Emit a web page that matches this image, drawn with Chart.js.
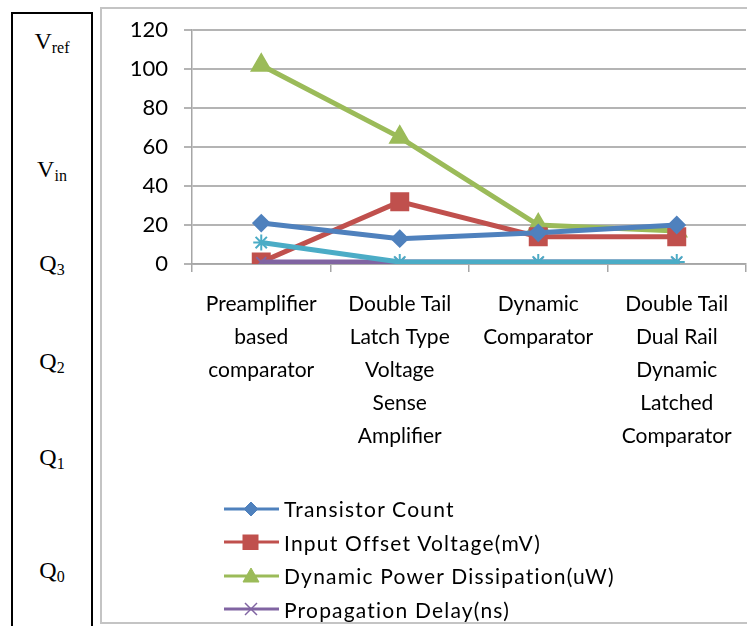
<!DOCTYPE html>
<html>
<head>
<meta charset="utf-8">
<script src="https://cdn.jsdelivr.net/npm/chart.js@4"></script>
<style>
  html, body { margin: 0; padding: 0; background: #fff; width: 747px; height: 626px; overflow: hidden; position: relative; }
  #sidebox { position: absolute; left: 11px; top: 12px; width: 78px; height: 640px; border: 2px solid #000; font-family: "Liberation Serif", "Times New Roman", serif; font-size: 24px; color: #000; }
  #sidebox div { position: absolute; left: 0; width: 78px; text-align: center; }
  #sidebox sub { font-size: 16px; vertical-align: -4px; }
  #chartbox { position: absolute; left: 100px; top: 7px; width: 660px; height: 613px; border: 2px solid #c4c4c4; }
  #wrap { position: absolute; left: 100px; top: 1px; width: 660px; height: 621px; }
  #legend { position: absolute; left: 224px; top: 492px; font-family: Lato, "Open Sans", sans-serif; font-size: 21px; letter-spacing: 1.2px; color: #000; }
  #legend .row { height: 33.5px; display: flex; align-items: center; }
  #legend svg { margin-right: 5px; }
</style>
</head>
<body>
<div id="sidebox">
  <div style="top:14px">V<sub>ref</sub></div>
  <div style="top:142px">V<sub>in</sub></div>
  <div style="top:236px">Q<sub>3</sub></div>
  <div style="top:334px">Q<sub>2</sub></div>
  <div style="top:430px">Q<sub>1</sub></div>
  <div style="top:543px">Q<sub>0</sub></div>
</div>
<div id="chartbox"></div>
<div id="wrap"><canvas id="lines"></canvas></div>
<div id="legend"></div>
<script>
// categories and values
const categories = [
  ['Preamplifier', 'based', 'comparator'],
  ['Double Tail', 'Latch Type', 'Voltage', 'Sense', 'Amplifier'],
  ['Dynamic', 'Comparator'],
  ['Double Tail', 'Dual Rail', 'Dynamic', 'Latched', 'Comparator']
];
const transistorCount = [21, 13, 16, 20];
const inputOffset = [1, 32, 14, 14];
const powerDissipation = [102, 65, 20, 17];
const propagationDelay = [1, 1, 1, 1];
const fifthSeries = [11, 1, 1, 1];
const yTicks = [0, 20, 40, 60, 80, 100, 120];

const seriesNames = ['Transistor Count', 'Input Offset Voltage(mV)', 'Dynamic Power Dissipation(uW)', 'Propagation Delay(ns)'];
const colors = ['#4f81bd', '#c0504d', '#9bbb59', '#8064a2', '#4bacc6'];

function ds(label, data, color, style, r) {
  return {
    label, data,
    borderColor: color, backgroundColor: color,
    borderWidth: 5, pointStyle: style, pointRadius: r, pointHoverRadius: r,
    pointBorderColor: color, pointBackgroundColor: color, pointBorderWidth: 2
  };
}

const data = {
  labels: categories,
  datasets: [
    ds('Series 5', fifthSeries, colors[4], 'star', 8),
    ds(seriesNames[3], propagationDelay, colors[3], 'crossRot', 7),
    ds(seriesNames[0], transistorCount, colors[0], 'rectRot', 8),
    ds(seriesNames[1], inputOffset, colors[1], 'rect', 12),
    ds(seriesNames[2], powerDissipation, colors[2], 'triangle', 11)
  ]
};
data.datasets.forEach((d, i) => d.order = i);

const config = {
  type: 'line',
  data,
  options: {
    responsive: false,
    animation: false,
    layout: { padding: { top: 14, right: 3, bottom: 0, left: 0 } },
    plugins: { legend: { display: false }, tooltip: { enabled: false } },
    scales: {
      x: {
        offset: true,
        grid: { display: true, drawOnChartArea: false, drawTicks: true, tickLength: 8, color: '#a6a6a6', lineWidth: 1.5, offset: true },
        border: { display: true, color: '#a6a6a6', width: 1.5 },
        ticks: { autoSkip: false, maxRotation: 0, padding: 16, color: '#000', font: { family: 'Lato', size: 21, lineHeight: '33px' } },
        afterFit: (s) => { s.height = 358; }
      },
      y: {
        min: 0, max: 120,
        afterBuildTicks: (s) => { s.ticks = yTicks.map(v => ({ value: v })); },
        grid: { color: '#b4b4b4', lineWidth: 2, tickLength: 8 },
        border: { display: true, color: '#a6a6a6', width: 1.5 },
        ticks: { padding: 16, color: '#000', font: { family: 'Lato', size: 22 } },
        afterFit: (s) => { s.width = 92; }
      }
    }
  }
};

const canvas = document.getElementById('lines');
canvas.width = 660; canvas.height = 621;
const chart = new Chart(canvas, config);

// legend rows like the reference (line + marker + name)
const markers = [
  '<polygon points="27,1 34,8 27,15 20,8" />',
  '<rect x="19" y="1" width="15" height="15" />',
  '<polygon points="27,0 35,14 19,14" />',
  '<g stroke-width="1.5" fill="none"><line x1="21" y1="2" x2="33" y2="14"/><line x1="33" y1="2" x2="21" y2="14"/></g>'
];
const legend = document.getElementById('legend');
[0, 1, 2, 3].forEach(i => {
  const c = colors[i];
  const row = document.createElement('div');
  row.className = 'row';
  row.innerHTML = '<svg width="55" height="16" fill="' + c + '" stroke="' + c + '">' +
    '<line x1="0" y1="8" x2="55" y2="8" stroke-width="3"/>' + markers[i] + '</svg>' +
    '<span>' + seriesNames[i] + '</span>';
  legend.appendChild(row);
});
</script>
</body>
</html>
